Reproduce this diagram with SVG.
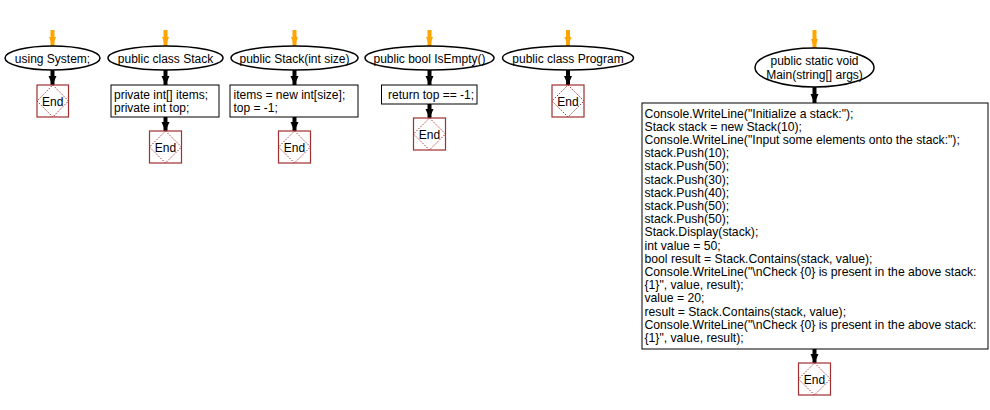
<svg xmlns="http://www.w3.org/2000/svg" width="990" height="410" viewBox="0 0 990 410">
<defs>
<marker id="ao" markerUnits="userSpaceOnUse" markerWidth="10" markerHeight="10" refX="9" refY="4" orient="auto" viewBox="0 0 10 8">
<path d="M0,0.5 L9,4 L0,7.5 Z" fill="#FFA500"/>
</marker>
<marker id="ab" markerUnits="userSpaceOnUse" markerWidth="10" markerHeight="10" refX="9" refY="4" orient="auto" viewBox="0 0 10 8">
<path d="M0,0 L9,4 L0,8 Z" fill="#000"/>
</marker>
<style>
text{font-family:"Liberation Sans",Arial,sans-serif;font-size:12px;fill:#000}
.big text{font-size:12.2px}
.ell{fill:#fff;stroke:#000;stroke-width:1.5}
.box{fill:#fff;stroke:#000;stroke-width:1}
.endr{fill:#fff;stroke:#A03030;stroke-width:1.2}
.endd{fill:none;stroke:#B03030;stroke-width:1;stroke-dasharray:1.5,1.5}
.c{text-anchor:middle}
.oc{stroke:#FFA500;stroke-width:4;fill:none;marker-end:url(#ao)}
.bc{stroke:#000;stroke-width:4;fill:none;marker-end:url(#ab)}
</style>
</defs>

<g id="connectors">
<line class="oc" x1="52.5" y1="30" x2="52.5" y2="46"/>
<line class="bc" x1="52.5" y1="70" x2="52.5" y2="85"/>
<line class="oc" x1="165.5" y1="30" x2="165.5" y2="46"/>
<line class="bc" x1="165.5" y1="70" x2="165.5" y2="85"/>
<line class="bc" x1="165.5" y1="117" x2="165.5" y2="131"/>
<line class="oc" x1="294.5" y1="30" x2="294.5" y2="46"/>
<line class="bc" x1="294.5" y1="70" x2="294.5" y2="85"/>
<line class="bc" x1="294.5" y1="117" x2="294.5" y2="131"/>
<line class="oc" x1="429.5" y1="30" x2="429.5" y2="46"/>
<line class="bc" x1="429.5" y1="70" x2="429.5" y2="85"/>
<line class="bc" x1="429.5" y1="104" x2="429.5" y2="118"/>
<line class="oc" x1="568" y1="30" x2="568" y2="46"/>
<line class="bc" x1="568" y1="70" x2="568" y2="85"/>
<line class="oc" x1="814.5" y1="30" x2="814.5" y2="48"/>
<line class="bc" x1="814.5" y1="87" x2="814.5" y2="103"/>
<line class="bc" x1="814.5" y1="349" x2="814.5" y2="363"/>
</g>

<g id="n1">
<ellipse class="ell" cx="52.5" cy="58" rx="47.5" ry="12"/>
<text class="c" x="52.5" y="62.5">using System;</text>
</g>
<g id="n1end">
<rect class="endr" x="37" y="85" width="31.5" height="32"/>
<path class="endd" d="M52.75,85 L68.5,101 L52.75,117 L37,101 Z"/>
<text class="c" x="52.75" y="105.5">End</text>
</g>

<g id="n2">
<ellipse class="ell" cx="165.5" cy="58" rx="57.5" ry="12"/>
<text class="c" x="165.5" y="62.5">public class Stack</text>
</g>
<g id="n2b">
<rect class="box" x="111" y="85" width="108" height="32"/>
<text x="114" y="99">private int[] items;</text>
<text x="114" y="112">private int top;</text>
</g>
<g id="n2end">
<rect class="endr" x="149.5" y="131" width="32" height="32"/>
<path class="endd" d="M165.5,131 L181.5,147 L165.5,163 L149.5,147 Z"/>
<text class="c" x="165.5" y="151.5">End</text>
</g>

<g id="n3">
<ellipse class="ell" cx="294.5" cy="58" rx="63.5" ry="12"/>
<text class="c" x="294.5" y="62.5">public Stack(int size)</text>
</g>
<g id="n3b">
<rect class="box" x="230" y="85" width="128" height="32"/>
<text x="233.5" y="99">items = new int[size];</text>
<text x="233.5" y="112">top = -1;</text>
</g>
<g id="n3end">
<rect class="endr" x="278.5" y="131" width="32" height="32"/>
<path class="endd" d="M294.5,131 L310.5,147 L294.5,163 L278.5,147 Z"/>
<text class="c" x="294.5" y="151.5">End</text>
</g>

<g id="n4">
<ellipse class="ell" cx="429.5" cy="58" rx="64.5" ry="12"/>
<text class="c" x="429.5" y="62.5">public bool IsEmpty()</text>
</g>
<g id="n4b">
<rect class="box" x="381.5" y="85" width="95.5" height="19"/>
<text x="388" y="99">return top == -1;</text>
</g>
<g id="n4end">
<rect class="endr" x="413.5" y="118" width="32" height="32"/>
<path class="endd" d="M429.5,118 L445.5,134 L429.5,150 L413.5,134 Z"/>
<text class="c" x="429.5" y="138.5">End</text>
</g>

<g id="n5">
<ellipse class="ell" cx="568" cy="58" rx="65.5" ry="12"/>
<text class="c" x="568" y="62.5">public class Program</text>
</g>
<g id="n5end">
<rect class="endr" x="552" y="85" width="32" height="32"/>
<path class="endd" d="M568,85 L584,101 L568,117 L552,101 Z"/>
<text class="c" x="568" y="105.5">End</text>
</g>

<g id="n6">
<ellipse class="ell" cx="814.5" cy="67.5" rx="59.5" ry="19.5"/>
<text class="c" x="814.5" y="64.5">public static void</text>
<text class="c" x="814.5" y="78.5">Main(string[] args)</text>
</g>
<g id="n6b" class="big">
<rect class="box" x="642" y="103" width="346" height="246"/>
<text x="644.5" y="117.5">Console.WriteLine("Initialize a stack:");</text>
<text x="644.5" y="130.7">Stack stack = new Stack(10);</text>
<text x="644.5" y="143.9">Console.WriteLine("Input some elements onto the stack:");</text>
<text x="644.5" y="157.1">stack.Push(10);</text>
<text x="644.5" y="170.3">stack.Push(50);</text>
<text x="644.5" y="183.5">stack.Push(30);</text>
<text x="644.5" y="196.7">stack.Push(40);</text>
<text x="644.5" y="209.9">stack.Push(50);</text>
<text x="644.5" y="223.1">stack.Push(50);</text>
<text x="644.5" y="236.3">Stack.Display(stack);</text>
<text x="644.5" y="249.5">int value = 50;</text>
<text x="644.5" y="262.7">bool result = Stack.Contains(stack, value);</text>
<text x="644.5" y="275.9">Console.WriteLine("\nCheck {0} is present in the above stack:</text>
<text x="644.5" y="289.1">{1}", value, result);</text>
<text x="644.5" y="302.3">value = 20;</text>
<text x="644.5" y="315.5">result = Stack.Contains(stack, value);</text>
<text x="644.5" y="328.7">Console.WriteLine("\nCheck {0} is present in the above stack:</text>
<text x="644.5" y="341.9">{1}", value, result);</text>
</g>
<g id="n6end">
<rect class="endr" x="798.5" y="363" width="32" height="32"/>
<path class="endd" d="M814.5,363 L830.5,379 L814.5,395 L798.5,379 Z"/>
<text class="c" x="814.5" y="383.5">End</text>
</g>
</svg>
